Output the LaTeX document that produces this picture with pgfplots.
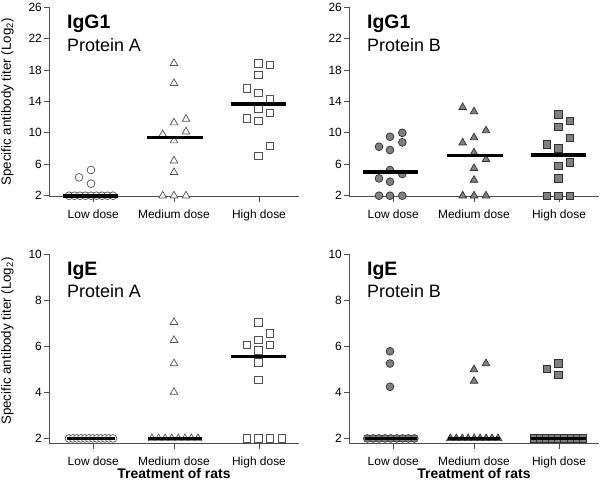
\documentclass[border=0pt]{standalone}
\usepackage{pgfplots}
\pgfplotsset{compat=1.18}
\usepackage{fontspec}
\setmainfont{Liberation Sans}
\definecolor{edge}{HTML}{505050}
\definecolor{fillg}{HTML}{808080}
\definecolor{edgef}{HTML}{303030}
\definecolor{axc}{HTML}{4D4D4D}
\pgfplotsset{
  panel/.style={
    scale only axis, width=250bp, anchor=south west,
    axis lines=left, axis line style={-, draw=axc, line width=0.8bp},
    xmin=0, xmax=250, xtick={44.3,125,210},
    xticklabels={Low dose, Medium dose, High dose},
    tick align=outside, major tick length=5bp,
    tick style={draw=axc, line width=0.8bp},
    ticklabel style={font=\fontsize{12}{14}\selectfont},
    /pgf/number format/assume math mode=true,
    xticklabel style={anchor=north, inner sep=0pt, yshift=-8bp},
    yticklabel style={anchor=east, inner sep=0pt, xshift=-2bp},
    clip=false, clip marker paths=true,
    every axis y label/.style={at={(rel axis cs:0,0.5)}, xshift=-41.5bp, rotate=90, anchor=center, font=\fontsize{13.4}{15}\selectfont},
    every axis x label/.style={at={(rel axis cs:0.5,0)}, yshift=-30bp, anchor=center, font=\fontsize{14}{16}\selectfont\bfseries},
  },
  topp/.style={panel, height=189.9bp, ymin=1.85, ymax=26, ytick={2,6,10,14,18,22,26}},
  botp/.style={panel, height=189.5bp, ymin=1.78, ymax=10, ytick={2,4,6,8,10}},
  oc/.style={only marks, mark=*, mark size=3.9bp, mark options={draw=edge, fill=white, line width=0.7bp}},
  ot/.style={only marks, mark=triangle*, mark size=4.4bp, mark options={draw=edge, fill=white, line width=0.7bp}},
  os/.style={only marks, mark=square*, mark size=3.7bp, mark options={draw=edge, fill=white, line width=0.7bp}},
  fc/.style={only marks, mark=*, mark size=3.9bp, mark options={draw=edgef, fill=fillg, line width=0.7bp}},
  ft/.style={only marks, mark=triangle*, mark size=4.4bp, mark options={draw=edgef, fill=fillg, line width=0.7bp}},
  fs/.style={only marks, mark=square*, mark size=3.7bp, mark options={draw=edgef, fill=fillg, line width=0.7bp}},
  med/.style={no marks, draw=black, line width=3.6bp},
}
\newcommand{\ttl}[2]{%
  \node[anchor=base west, inner sep=0pt, font=\fontsize{19.5}{20}\selectfont\bfseries] at (rel axis cs:0.072,0.888) {#1};
  \node[anchor=base west, inner sep=0pt, font=\fontsize{18}{19}\selectfont] at (rel axis cs:0.072,0.768) {#2};}
\begin{document}
\begin{tikzpicture}
\path[use as bounding box] (0,0) rectangle (600bp,485bp);
% ---------------- Top left: IgG1 Protein A
\begin{axis}[topp, at={(49bp,288.1bp)}, ylabel={Specific antibody titer (Log\textsubscript{2})}]
\addplot[oc] coordinates {(30,4.33) (42,5.27) (42,3.53)
 (20,2) (25.5,2) (31,2) (36.5,2) (42,2) (47.5,2) (53,2) (58.5,2) (64,2)};
\addplot[ot] coordinates {(125,18.84) (125,16.29) (125,11.29) (137,11.75) (113.7,9.8) (137,10.14) (125,9.0) (125,6.45) (125,4.97) (113.7,2) (125,2) (137,2)};
\addplot[os] coordinates {(209.3,18.84) (221,18.62) (209.3,17.35) (197.7,15.66) (209.3,15.1) (221,14.3) (209.3,13.07) (221,12.52) (197.7,11.84) (209.3,11.54) (221,8.32) (209.3,7.05)};
\addplot[med] coordinates {(14.3,2) (69.3,2)};
\addplot[med] coordinates {(97.7,9.4) (153.7,9.4)};
\addplot[med] coordinates {(181.7,13.7) (236.7,13.7)};
\ttl{IgG1}{Protein A}
\end{axis}
% ---------------- Top right: IgG1 Protein B
\begin{axis}[topp, at={(349bp,288.1bp)}]
\addplot[fc] coordinates {(30,8.23) (41,9.5) (53.3,10.0) (41,7.81) (53.3,8.79) (41,5.27) (53.3,4.76) (30,4.2) (41,3.78) (30,2) (41,2) (53.3,2)};
\addplot[ft] coordinates {(113.7,13.24) (125,12.69) (137,10.27) (113.7,8.74) (125,9.38) (125,7.47) (137,6.62) (125,5.48) (125,3.99) (113.7,2) (125,2) (137,2)};
\addplot[fs] coordinates {(209.3,12.35) (221,11.54) (209.3,10.78) (221,9.38) (197.7,8.53) (209.3,8.02) (221,6.24) (209.3,5.82) (209.3,4.2) (197.7,2) (209.3,2) (221,2)};
\addplot[med] coordinates {(14.3,5.0) (69.3,5.0)};
\addplot[med] coordinates {(97.7,7.1) (153.7,7.1)};
\addplot[med] coordinates {(181.7,7.15) (236.7,7.15)};
\ttl{IgG1}{Protein B}
\end{axis}
% ---------------- Bottom left: IgE Protein A
\begin{axis}[botp, at={(49bp,41.5bp)}, ylabel={Specific antibody titer (Log\textsubscript{2})}, xlabel={Treatment of rats}, ylabel style={at={(rel axis cs:0,0.54)}}]
\addplot[oc] coordinates {(20,2) (24,2) (28,2) (32,2) (36,2) (40,2) (44,2) (48,2) (52,2) (56,2) (60,2) (64,2)};
\addplot[ot] coordinates {(125,7.04) (125,6.26) (125,5.25) (125,4.01)
 (103,2) (109.6,2) (116.1,2) (122.7,2) (129.3,2) (135.9,2) (142.4,2) (149,2)};
\addplot[os] coordinates {(209.3,7.03) (221,6.55) (209.3,6.28) (197.7,6.06) (221,6.06) (209.3,5.82) (209.3,5.3) (209.3,4.55) (197.7,2) (209.3,2) (221,2) (232.7,2)};
\addplot[med] coordinates {(18,2) (66,2)};
\addplot[med] coordinates {(99,2) (153,2)};
\addplot[med] coordinates {(181.7,5.55) (236.7,5.55)};
\ttl{IgE}{Protein A}
\end{axis}
% ---------------- Bottom right: IgE Protein B
\begin{axis}[botp, at={(349bp,41.5bp)}, xlabel={Treatment of rats}]
\addplot[fc] coordinates {(41,5.78) (41,5.25) (41,4.24)
 (18.3,2) (24.2,2) (30.1,2) (35.9,2) (41.8,2) (47.7,2) (53.6,2) (59.4,2) (65.3,2)};
\addplot[ft] coordinates {(125,4.99) (137,5.25) (125,4.49)
 (101.4,2) (107.3,2) (113.3,2) (119.2,2) (125.2,2) (131.1,2) (137.1,2) (143,2) (149,2)};
\addplot[fs] coordinates {(197.7,5.02) (209.3,5.25) (209.3,4.75)
 (184.6,2) (190.8,2) (197,2) (203.1,2) (209.3,2) (215.5,2) (221.7,2) (227.8,2) (234,2)};
\addplot[med] coordinates {(16,2) (68,2)};
\addplot[med] coordinates {(99,2) (151,2)};
\addplot[med] coordinates {(182,2) (237,2)};
\ttl{IgE}{Protein B}
\end{axis}
\end{tikzpicture}
\end{document}
